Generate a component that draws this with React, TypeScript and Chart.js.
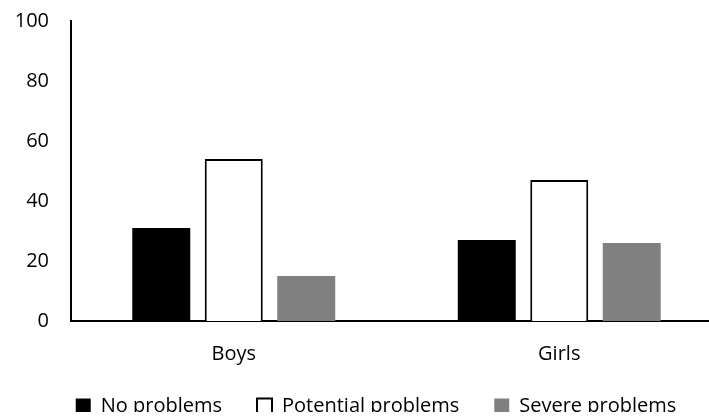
import React, { useEffect, useRef } from "react";
import { Chart, registerables } from "chart.js";

Chart.register(...registerables);

const categories = ["Boys", "Girls"];
const noProblems = [31, 27];
const potentialProblems = [54, 47];
const severeProblems = [15, 26];
const yTicks = [0, 20, 40, 60, 80, 100];

const FONT = "'Open Sans', sans-serif";

const legendTweak = {
  id: "legendTweak",
  beforeInit(chart: any) {
    const legend = chart.legend;
    if (legend && !legend.__patched) {
      const orig = legend.fit.bind(legend);
      legend.fit = function () {
        orig();
        this.height = 51;
      };
      legend.__patched = true;
    }
  },
  afterLayout(chart: any) {
    const legend = chart.legend;
    if (legend) {
      legend.left += 15;
      legend.right += 15;
      legend.top = 361;
      legend.bottom = 412;
    }
  },
};

export default function App() {
  const ref = useRef<HTMLCanvasElement | null>(null);

  useEffect(() => {
    if (!ref.current) return;
    const chart = new Chart(ref.current, {
      type: "bar",
      data: {
        labels: categories,
        datasets: [
          {
            label: "No problems",
            data: noProblems,
            backgroundColor: "#000000",
            borderColor: "#000000",
            borderWidth: 0,
          },
          {
            label: "Potential problems",
            data: potentialProblems,
            backgroundColor: "#ffffff",
            borderColor: "#000000",
            borderWidth: 2,
          },
          {
            label: "Severe problems",
            data: severeProblems,
            backgroundColor: "#808080",
            borderColor: "#808080",
            borderWidth: 0,
          },
        ],
      },
      plugins: [legendTweak],
      options: {
        responsive: false,
        animation: false,
        layout: { padding: { top: 0, right: 8, left: 0, bottom: 0 } },
        datasets: {
          bar: { categoryPercentage: 0.668, barPercentage: 0.8 },
        },
        plugins: {
          tooltip: { enabled: false },
          legend: {
            position: "bottom",
            labels: {
              color: "#000",
              font: { family: FONT, size: 20 },
              boxWidth: 15,
              boxHeight: 15,
              padding: 35,
            },
          },
        },
        scales: {
          x: {
            afterFit: (scale: any) => {
              scale.height = 45;
            },
            grid: { display: false, drawTicks: false },
            border: { display: true, color: "#000", width: 2 },
            ticks: {
              color: "#000",
              font: { family: FONT, size: 20 },
              padding: 21,
            },
          },
          y: {
            min: 0,
            max: 100,
            afterBuildTicks: (scale: any) => {
              scale.ticks = yTicks.map((v) => ({ value: v }));
            },
            afterFit: (scale: any) => {
              scale.width = 71;
              scale.paddingTop = 21;
              scale.paddingBottom = 0;
            },
            grid: { display: false, drawTicks: false },
            border: { display: true, color: "#000", width: 2 },
            ticks: {
              color: "#000",
              font: { family: FONT, size: 20 },
              padding: 22,
            },
          },
        },
      },
    });
    return () => chart.destroy();
  }, []);

  return (
    <div
      style={{
        position: "fixed",
        left: 0,
        top: 0,
        width: 709,
        height: 417,
        overflow: "hidden",
        background: "#fff",
      }}
    >
      <canvas ref={ref} width={730} height={417} style={{ display: "block" }} />
    </div>
  );
}
